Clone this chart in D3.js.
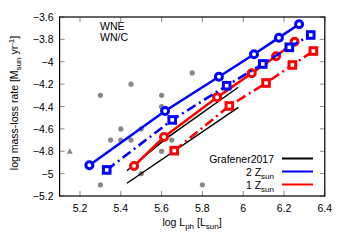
<!DOCTYPE html>
<html><head><meta charset="utf-8">
<script src="https://cdn.jsdelivr.net/npm/d3@7"></script>
<style>body{margin:0;background:#fff}svg{display:block}text{font-family:"Liberation Sans",Arial,sans-serif;fill:#000}</style>
</head><body><svg id="c" width="351" height="248"></svg>
<script>
// Data
const xTicks = [5.2,5.4,5.6,5.8,6.0,6.2,6.4];
const yTicks = [-5.2,-5.0,-4.8,-4.6,-4.4,-4.2,-4.0,-3.8,-3.6];
const L_2Z_solid = [5.246,5.617,5.881,6.053,6.175,6.274];
const M_2Z_solid = [-4.925,-4.44,-4.134,-3.933,-3.785,-3.665];
const L_2Z_dash = [5.331,5.652,5.919,6.096,6.226,6.331];
const M_2Z_dash = [-4.967,-4.52,-4.214,-4.02,-3.871,-3.761];
const L_1Z_solid = [5.465,5.612,5.872,6.042,6.161,6.252];
const M_1Z_solid = [-4.932,-4.672,-4.318,-4.103,-3.951,-3.821];
const L_1Z_dash = [5.662,5.932,6.112,6.241,6.344];
const M_1Z_dash = [-4.795,-4.395,-4.19,-4.029,-3.904];
const L_graf_hi = [5.43,5.62,5.976];
const M_graf_hi = [-4.974,-4.69,-4.228];
const L_graf_lo = [5.43,5.976];
const M_graf_lo = [-5.086,-4.407];
const obsL = [5.3,5.45,5.6,5.75,5.6,5.4,5.5,5.35,5.4,5.45,5.65,5.6,5.5,5.3,5.8];
const obsM = [-4.3,-4.2,-4.3,-4.1,-4.4,-4.6,-4.6,-4.7,-4.7,-4.7,-4.7,-4.8,-5.0,-5.1,-5.1];
const triL = [5.15];
const triM = [-4.8];

const svg = d3.select("#c");
const X0=59.6, X1=324.8, Y0=196, Y1=17;
const x = d3.scaleLinear().domain([5.1,6.4]).range([X0,X1]);
const y = d3.scaleLinear().domain([-5.2,-3.6]).range([Y0,Y1]);
const fmt = d => d3.format("")(+d.toFixed(1));

// ticks (mirrored, inward)
const tk = 5, tc = "#888";
const gx = svg.append("g");
xTicks.forEach(v=>{
  gx.append("line").attr("x1",x(v)).attr("x2",x(v)).attr("y1",Y0).attr("y2",Y0-tk).attr("stroke",tc);
  gx.append("line").attr("x1",x(v)).attr("x2",x(v)).attr("y1",Y1).attr("y2",Y1+tk).attr("stroke",tc);
  gx.append("text").attr("x",x(v)).attr("y",Y0+16).attr("text-anchor","middle").attr("font-size",10.5).text(fmt(v));
});
yTicks.forEach(v=>{
  gx.append("line").attr("x1",X0).attr("x2",X0+tk).attr("y1",y(v)).attr("y2",y(v)).attr("stroke",tc);
  gx.append("line").attr("x1",X1).attr("x2",X1-tk).attr("y1",y(v)).attr("y2",y(v)).attr("stroke",tc);
  gx.append("text").attr("x",X0-6).attr("y",y(v)+4).attr("text-anchor","end").attr("font-size",10.5).text(fmt(v));
});

// gray observed points
svg.append("g").selectAll("circle").data(obsL).join("circle")
  .attr("cx",(d,i)=>x(d)).attr("cy",(d,i)=>y(obsM[i])).attr("r",2.6).attr("fill","#888");
svg.append("g").selectAll("path").data(triL).join("path")
  .attr("d",(d,i)=>{const cx=x(d),cy=y(triM[i]);return `M${cx},${cy-3}L${cx+3},${cy+2.4}L${cx-3},${cy+2.4}Z`;})
  .attr("fill","#888");

const line = d3.line().x(d=>x(d[0])).y(d=>y(d[1]));
const zip = (a,b)=>a.map((v,i)=>[v,b[i]]);

// Grafener lines
[[L_graf_hi,M_graf_hi],[L_graf_lo,M_graf_lo]].forEach(([a,b])=>{
  svg.append("path").attr("d",line(zip(a,b))).attr("fill","none").attr("stroke","#000").attr("stroke-width",1.5);
});

function series(L,M,color,dash,marker){
  const pts = zip(L,M);
  const p = svg.append("path").attr("d",line(pts)).attr("fill","none").attr("stroke",color).attr("stroke-width",2.6);
  if(dash) p.attr("stroke-dasharray",dash);
  const g = svg.append("g");
  if(marker==="circle"){
    g.selectAll("circle").data(pts).join("circle").attr("cx",d=>x(d[0])).attr("cy",d=>y(d[1]))
      .attr("r",3.5).attr("fill","#fff").attr("stroke",color).attr("stroke-width",3);
  } else {
    g.selectAll("rect").data(pts).join("rect").attr("x",d=>x(d[0])-3.3).attr("y",d=>y(d[1])-3.3)
      .attr("width",6.6).attr("height",6.6).attr("fill","#fff").attr("stroke",color).attr("stroke-width",3);
  }
}
series(L_1Z_dash,M_1Z_dash,"#ff0000","10,4,2,4","square");
series(L_1Z_solid,M_1Z_solid,"#ff0000",null,"circle");
series(L_2Z_dash,M_2Z_dash,"#0000ff","10,4,2,4","square");
series(L_2Z_solid,M_2Z_solid,"#0000ff",null,"circle");

// border
svg.append("rect").attr("x",X0).attr("y",Y1).attr("width",X1-X0).attr("height",Y0-Y1)
  .attr("fill","none").attr("stroke","#000").attr("stroke-width",1.2);

// annotation
svg.append("text").attr("x",100).attr("y",30).attr("font-size",10.5).text("WNE");
svg.append("text").attr("x",100).attr("y",41).attr("font-size",10.5).text("WN/C");

// legend
const leg = [["Grafener2017",null,"#000"],["2 Z","sun","#0000ff"],["1 Z","sun","#ff0000"]];
leg.forEach((d,i)=>{
  const yy = 158.5 + i*13;
  const t = svg.append("text").attr("x",274).attr("y",yy+4).attr("text-anchor","end").attr("font-size",10.5);
  t.append("tspan").text(d[0]);
  if(d[1]) t.append("tspan").attr("dy",3).attr("font-size",8).text(d[1]);
  svg.append("line").attr("x1",282).attr("x2",313).attr("y1",yy).attr("y2",yy).attr("stroke",d[2]).attr("stroke-width",2);
});

// axis labels
const xl = svg.append("text").attr("x",192).attr("y",226).attr("text-anchor","middle").attr("font-size",10.5);
xl.append("tspan").text("log L");
xl.append("tspan").attr("dy",3).attr("font-size",8).text("ph");
xl.append("tspan").attr("dy",-3).text(" [L");
xl.append("tspan").attr("dy",3).attr("font-size",8).text("sun");
xl.append("tspan").attr("dy",-3).text("]");

const yl = svg.append("text").attr("transform","translate(18,103) rotate(-90)").attr("text-anchor","middle").attr("font-size",10.5);
yl.append("tspan").text("log mass-loss rate [M");
yl.append("tspan").attr("dy",3).attr("font-size",8).text("sun");
yl.append("tspan").attr("dy",-3).text(" yr");
yl.append("tspan").attr("dy",-4).attr("font-size",8).text("-1");
yl.append("tspan").attr("dy",4).text("]");
</script></body></html>
